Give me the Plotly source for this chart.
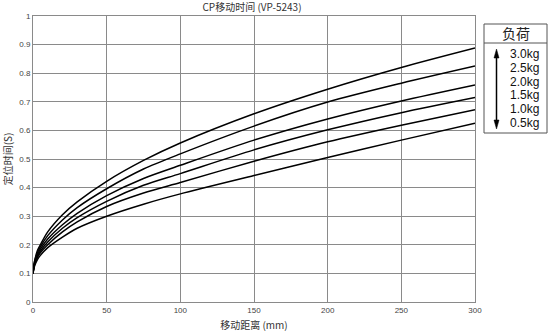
import plotly.graph_objects as go

distance_mm = [0, 1, 3, 5, 10, 20, 30, 50, 75, 100, 150, 200, 250, 300]
load_labels = ["3.0kg", "2.5kg", "2.0kg", "1.5kg", "1.0kg", "0.5kg"]
time_3_0 = [0.10, 0.14, 0.18, 0.20, 0.245, 0.305, 0.35, 0.422, 0.495, 0.556, 0.658, 0.744, 0.82, 0.888]
time_2_5 = [0.10, 0.14, 0.172, 0.193, 0.232, 0.287, 0.33, 0.396, 0.465, 0.518, 0.615, 0.699, 0.765, 0.825]
time_2_0 = [0.10, 0.135, 0.165, 0.185, 0.22, 0.27, 0.31, 0.372, 0.432, 0.478, 0.566, 0.640, 0.703, 0.759]
time_1_5 = [0.10, 0.133, 0.16, 0.178, 0.21, 0.258, 0.295, 0.352, 0.408, 0.449, 0.532, 0.602, 0.662, 0.715]
time_1_0 = [0.10, 0.13, 0.155, 0.172, 0.20, 0.245, 0.28, 0.334, 0.381, 0.418, 0.492, 0.560, 0.618, 0.672]
time_0_5 = [0.10, 0.125, 0.148, 0.163, 0.19, 0.227, 0.258, 0.300, 0.342, 0.378, 0.442, 0.505, 0.566, 0.625]
series = [time_3_0, time_2_5, time_2_0, time_1_5, time_1_0, time_0_5]

x_ticks = [0, 50, 100, 150, 200, 250, 300]
y_ticks = [0, 0.1, 0.2, 0.3, 0.4, 0.5, 0.6, 0.7, 0.8, 0.9, 1]
y_tick_text = ["0", "0.1", "0.2", "0.3", "0.4", "0.5", "0.6", "0.7", "0.8", "0.9", "1"]

W, H = 550, 336
L, R, T, B = 33, 475, 16, 302

def px(x):
    return (x - L) / (R - L)

def py(y):
    return (B - y) / (B - T)

fig = go.Figure()
for name, ys in zip(load_labels, series):
    fig.add_trace(go.Scatter(x=distance_mm, y=ys, mode="lines", name=name,
                             line=dict(color="black", width=1.5, shape="spline", smoothing=0.8),
                             showlegend=False))

grid_c = "#8a8a8a"
fig.update_xaxes(range=[0, 300], tickvals=x_ticks, ticktext=[str(v) for v in x_ticks],
                 showgrid=True, gridcolor=grid_c, gridwidth=1, zeroline=False,
                 showline=True, linecolor=grid_c, linewidth=1, mirror=True, automargin=False,
                 ticks="", tickfont=dict(family="Liberation Sans", size=8, color="#444"),
                 title=dict(text="移动距离 (mm)", font=dict(family="Noto Sans CJK SC", size=10, color="#333"), standoff=8))
fig.update_yaxes(range=[0, 1], tickvals=y_ticks, ticktext=y_tick_text,
                 showgrid=True, gridcolor=grid_c, gridwidth=1, zeroline=False,
                 showline=True, linecolor=grid_c, linewidth=1, mirror=True, automargin=False,
                 ticks="", tickfont=dict(family="Liberation Sans", size=8, color="#444"),
                 title=dict(text="定位时间(S)", font=dict(family="Noto Sans CJK SC", size=10, color="#333"), standoff=4))

shapes = []
bx0, bx1, by0, by1, bhead = 484, 547, 24, 133, 43
shapes.append(dict(type="rect", xref="paper", yref="paper", x0=px(bx0), x1=px(bx1), y0=py(by1), y1=py(by0),
                   line=dict(color="#555", width=1), fillcolor="white"))
shapes.append(dict(type="line", xref="paper", yref="paper", x0=px(bx0), x1=px(bx1), y0=py(bhead), y1=py(bhead),
                   line=dict(color="#555", width=1)))
ax = 496.5
shapes.append(dict(type="line", xref="paper", yref="paper", x0=px(ax), x1=px(ax), y0=py(56), y1=py(122),
                   line=dict(color="black", width=1.5)))

def tri(xc, ytip, ybase, hw):
    return "M {} {} L {} {} L {} {} Z".format(px(xc), py(ytip), px(xc - hw), py(ybase), px(xc + hw), py(ybase))

shapes.append(dict(type="path", xref="paper", yref="paper", path=tri(ax, 49, 58, 2.5),
                   fillcolor="black", line=dict(color="black", width=0.5)))
shapes.append(dict(type="path", xref="paper", yref="paper", path=tri(ax, 129, 120, 2.5),
                   fillcolor="black", line=dict(color="black", width=0.5)))

annotations = []
annotations.append(dict(text="负荷", xref="paper", yref="paper", x=px(515.5), y=py(33.5), showarrow=False,
                        xanchor="center", yanchor="middle",
                        font=dict(family="Noto Sans CJK SC", size=14, color="#222")))
label_y = [54, 68, 81.5, 95, 109, 123]
for lab, yy in zip(load_labels, label_y):
    annotations.append(dict(text=lab, xref="paper", yref="paper", x=px(508), y=py(yy), showarrow=False,
                            xanchor="left", yanchor="middle",
                            font=dict(family="Liberation Sans", size=12, color="#111")))

fig.update_layout(
    width=W, height=H,
    margin=dict(l=L, r=W - R, t=T, b=H - B, autoexpand=False),
    paper_bgcolor="white", plot_bgcolor="white",
    title=dict(text="CP移动时间 (VP-5243)", x=252 / W, xanchor="center", y=1 - 7 / H, yanchor="middle",
               font=dict(family="Noto Sans CJK SC", size=10, color="#333")),
    shapes=shapes, annotations=annotations,
)

fig.write_html("out.html", config={"displayModeBar": False},
               post_script="document.body.style.margin='0';document.body.style.overflow='hidden';")
